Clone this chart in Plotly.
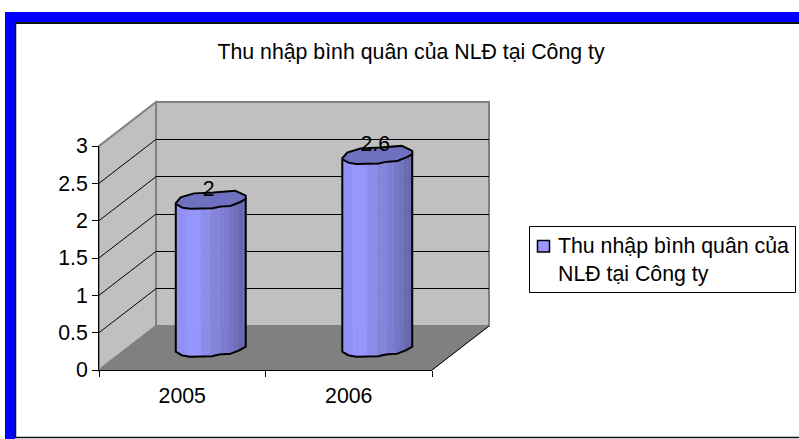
"""Thu nhap binh quan chart: fake 3D cylinders on stacked cartesian axes."""

import numpy as np
import plotly.graph_objects as go

W, H = 799, 439

years = ["2005", "2006"]
income = [2, 2.6]
y_ticks = [0, 0.5, 1, 1.5, 2, 2.5, 3]
chart_title = "Thu nhập bình quân của NLĐ tại Công ty"
series_name = "Thu nhập bình quân của<br>NLĐ tại Công ty"

FONT = "Liberation Sans"
FONT_SIZE = 21.3

# cylinder outline, x as fraction of half width, dy in value units
EDGE_X = [-1, -0.86, -0.67, 0, 0.23, 0.51, 0.75, 1]
EDGE_DY = [-0.049, -0.093, -0.116, -0.116, -0.084, -0.084, -0.049, 0.017]
TOP_X = [-1, -0.86, -0.48, 0.08, 0.7, 1]
TOP_DY = [-0.06, 0.018, 0.071, 0.084, 0.107, 0.04]
TOP_SAG = 0.02
HALF_WIDTH = 0.21

# shading bands, left to right
BANDS = ["#9191f5", "#9696ff", "#8c8ceb", "#8484dc", "#7d7dd2", "#7676c6", "#7070bc", "#6969af"]
BAND_EDGES = [-1, -0.69, -0.29, -0.03, 0.25, 0.51, 0.67, 0.82, 1]

# front plane and depth shift, in page pixels
X0, X1, Y0, Y3 = 99, 432, 370, 146
DX, DY = 57, 44
BELOW_ZERO = 0.5  # room under the cylinder base on its own axis


def px(x):
    return x / W


def py(y):
    return 1 - y / H


def path(points):
    return "M " + " L ".join(f"{px(x)} {py(y)}" for x, y in points) + " Z"


def domains(shift, below=0.0):
    unit = (Y0 - Y3) / y_ticks[-1]
    xd = [px(X0 + DX * shift), px(X1 + DX * shift)]
    yd = [py(Y0 - DY * shift + below * unit), py(Y3 - DY * shift)]
    return xd, yd


fig = go.Figure()

# back wall gridlines live on x2/y2, axis labels on x/y, cylinders on x3/y3
fig.add_trace(go.Scatter(x=years, y=[None, None], xaxis="x", yaxis="y", showlegend=False, hoverinfo="skip"))
fig.add_trace(go.Scatter(x=[0], y=[None], xaxis="x2", yaxis="y2", showlegend=False, hoverinfo="skip"))

xpos = list(range(len(years)))
xs = np.linspace(-1, 1, 29)
for left, right in zip(xs[:-1], xs[1:]):
    mid = (left + right) / 2
    band = min(np.searchsorted(BAND_EDGES, mid) - 1, len(BANDS) - 1)
    fig.add_trace(go.Bar(
        x=xpos,
        y=income,
        base=[float(np.interp(mid, EDGE_X, EDGE_DY))] * len(income),
        width=(right - left) * HALF_WIDTH + 0.002,
        offset=left * HALF_WIDTH,
        marker=dict(color=BANDS[band], line_width=0),
        xaxis="x3",
        yaxis="y3",
        showlegend=False,
        hoverinfo="skip",
    ))

for cx, value in zip(xpos, income):
    lower_x = np.linspace(-1, 1, 60)
    lower_dy = np.interp(lower_x, EDGE_X, EDGE_DY)
    upper_x = np.array(TOP_X)
    upper_dy = np.array(TOP_DY)
    # body sides and bottom
    fig.add_trace(go.Scatter(
        x=cx + np.concatenate([[-1], lower_x, [1]]) * HALF_WIDTH,
        y=np.concatenate([[value + lower_dy[0]], lower_dy, [value + lower_dy[-1]]]),
        mode="lines",
        line=dict(color="black", width=2),
        xaxis="x3",
        yaxis="y3",
        showlegend=False,
        hoverinfo="skip",
    ))
    # top face
    fig.add_trace(go.Scatter(
        x=cx + np.concatenate([lower_x, upper_x[::-1]]) * HALF_WIDTH,
        y=value + np.concatenate([lower_dy - TOP_SAG, upper_dy[::-1]]),
        mode="lines",
        fill="toself",
        fillcolor="#7070c0",
        line=dict(color="black", width=2),
        xaxis="x3",
        yaxis="y3",
        showlegend=False,
        hoverinfo="skip",
    ))

# data labels
fig.add_trace(go.Scatter(
    x=[c - 0.012 for c in xpos],
    y=[v + 0.11 for v in income],
    text=[f"{v:g}" for v in income],
    mode="text",
    textposition="middle center",
    textfont=dict(family=FONT, size=FONT_SIZE, color="black"),
    xaxis="x3",
    yaxis="y3",
    showlegend=False,
    hoverinfo="skip",
))

# frame: blue band on the left and top, thin black line inside it
shapes = [
    dict(type="rect", x0=px(5), x1=px(15), y0=py(12), y1=0, fillcolor="#0000ff", line_width=0),
    dict(type="rect", x0=px(5), x1=1, y0=py(12), y1=py(22), fillcolor="#0000ff", line_width=0),
    dict(type="line", x0=px(15.5), x1=px(15.5), y0=py(22), y1=py(438), line=dict(color="#111111", width=1.5)),
    dict(type="line", x0=px(15), x1=1, y0=py(23), y1=py(23), line=dict(color="#111111", width=2)),
    dict(type="line", x0=px(15), x1=1, y0=py(437.5), y1=py(437.5), line=dict(color="#111111", width=1.5)),
]
# floor and walls
back = [(X0 + DX, Y3 - DY), (X1 + DX, Y3 - DY), (X1 + DX, Y0 - DY), (X0 + DX, Y0 - DY)]
side = [(X0, Y3), (X0 + DX, Y3 - DY), (X0 + DX, Y0 - DY), (X0, Y0)]
floor = [(X0, Y0), (X0 + DX, Y0 - DY), (X1 + DX, Y0 - DY), (X1, Y0)]
shapes.append(dict(type="path", path=path(back), fillcolor="#c0c0c0", line=dict(color="#808080", width=2)))
shapes.append(dict(type="path", path=path(side), fillcolor="#c0c0c0", line=dict(color="#808080", width=2)))
shapes.append(dict(type="path", path=path(floor), fillcolor="#808080", line=dict(color="#808080", width=1)))
shapes.append(dict(type="line", x0=px(X1), y0=py(Y0), x1=px(X1 + DX), y1=py(Y0 - DY), line=dict(color="black", width=1)))
for tick in y_ticks[1:-1]:
    y = Y0 + (Y3 - Y0) * tick / y_ticks[-1]
    shapes.append(dict(type="line", x0=px(X0), y0=py(y), x1=px(X0 + DX), y1=py(y - DY), line=dict(color="black", width=1)))
# legend box, swatch sits on the first text line as in Excel
shapes.append(dict(type="rect", x0=px(529.5), x1=px(795.5), y0=py(226.5), y1=py(292.5), fillcolor="white", line=dict(color="black", width=1)))
shapes.append(dict(type="rect", x0=px(537.5), x1=px(549.5), y0=py(240.5), y1=py(252), fillcolor="#9999ff", line=dict(color="black", width=1.5)))
for s in shapes:
    s.update(xref="paper", yref="paper", layer="below")

fx, fy = domains(0)
bx, by = domains(1)
cx_dom, cy_dom = domains(0.5, BELOW_ZERO)

fig.update_layout(
    width=W,
    height=H,
    margin=dict(l=0, r=0, t=0, b=0, autoexpand=False),
    paper_bgcolor="white",
    plot_bgcolor="rgba(0,0,0,0)",
    font=dict(family=FONT, size=FONT_SIZE, color="black"),
    barmode="overlay",
    showlegend=False,
    shapes=shapes,
    title=dict(text=chart_title, x=411 / W, xanchor="center", y=py(52), yanchor="middle", font=dict(family=FONT, size=FONT_SIZE)),
    annotations=[dict(
        text=series_name,
        xref="paper",
        yref="paper",
        x=px(556),
        y=py(260),
        xanchor="left",
        yanchor="middle",
        align="left",
        showarrow=False,
        font=dict(family=FONT, size=FONT_SIZE),
    )],
    xaxis=dict(
        domain=fx,
        type="category",
        categoryarray=years,
        range=[-0.5, 1.5],
        tickson="boundaries",
        ticks="outside",
        ticklen=6,
        tickcolor="black",
        ticklabelstandoff=6,
        showline=True,
        linecolor="black",
        showgrid=False,
        zeroline=False,
        tickfont=dict(size=FONT_SIZE),
    ),
    yaxis=dict(
        domain=fy,
        range=[0, 3],
        tickmode="array",
        tickvals=y_ticks,
        ticktext=[f"{t:g}" for t in y_ticks],
        ticks="outside",
        ticklen=6,
        tickcolor="black",
        showline=True,
        linecolor="black",
        showgrid=False,
        zeroline=False,
        tickfont=dict(size=FONT_SIZE),
    ),
    xaxis2=dict(domain=bx, range=[-0.5, 1.5], anchor="y2", visible=False),
    yaxis2=dict(
        domain=by,
        range=[0, 3],
        anchor="x2",
        tickmode="array",
        tickvals=y_ticks[1:-1],
        showticklabels=False,
        ticks="",
        showgrid=True,
        gridcolor="black",
        gridwidth=1,
        showline=False,
        zeroline=False,
    ),
    xaxis3=dict(domain=cx_dom, range=[-0.5, 1.5], anchor="y3", visible=False),
    yaxis3=dict(domain=cy_dom, range=[-BELOW_ZERO, 3], anchor="x3", visible=False),
)

fig.write_html(
    "out.html",
    config=dict(displayModeBar=False),
    post_script="document.body.style.margin='0';document.body.style.overflow='hidden';",
)
